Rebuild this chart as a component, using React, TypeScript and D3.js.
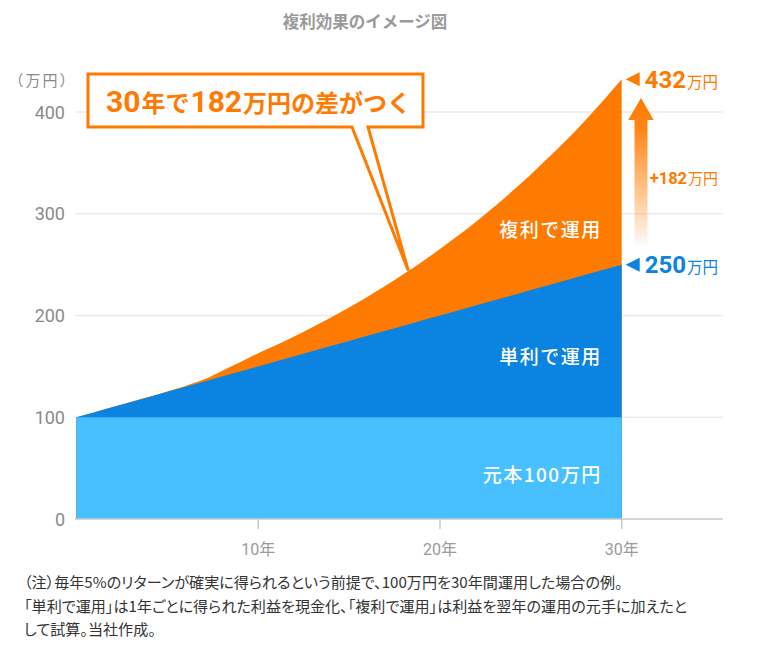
import React from "react";
import * as d3 from "d3";

const years = [0, 1, 2, 3, 4, 5, 6, 7, 8, 9, 10, 11, 12, 13, 14, 15, 16, 17, 18, 19, 20, 21, 22, 23, 24, 25, 26, 27, 28, 29, 30];
const principalValue = 100;
const simpleValues = [100, 105, 110, 115, 120, 125, 130, 135, 140, 145, 150, 155, 160, 165, 170, 175, 180, 185, 190, 195, 200, 205, 210, 215, 220, 225, 230, 235, 240, 245, 250];
const compoundValues = [100, 105, 110, 115, 120.1, 125.3, 130.8, 137, 145.5, 154, 162.9, 171, 179.6, 188.6, 198, 207.9, 218.3, 229.2, 240.7, 252.7, 265.3, 278.6, 292.5, 307.2, 322.5, 338.6, 355.7, 373.3, 392, 411.6, 432.2];
const yTicks = [0, 100, 200, 300, 400];
const xTicks = [10, 20, 30];
const xTickLabels = ["10年", "20年", "30年"];
const seriesLabels = ["複利で運用", "単利で運用", "元本100万円"];
const title = "複利効果のイメージ図";
const unitLabel = "（万円）";
const calloutParts = [
  { t: "30", num: true },
  { t: "年で", num: false },
  { t: "182", num: true },
  { t: "万円の差がつく", num: false },
];
const finalCompound = "432";
const finalSimple = "250";
const diffLabel = "+182";
const footnotes = [
  "（注）毎年5%のリターンが確実に得られるという前提で、100万円を30年間運用した場合の例。",
  "「単利で運用」は1年ごとに得られた利益を現金化、「複利で運用」は利益を翌年の運用の元手に加えたと",
  "して試算。当社作成。",
];

const ORANGE = "#FF7A00";
const BLUE = "#0B83E0";
const LIGHTBLUE = "#48BFFF";
const CJK = "'Noto Sans CJK JP', sans-serif";
const NUM = "Roboto, 'Noto Sans CJK JP', sans-serif";

export default function App() {
  const x = d3.scaleLinear().domain([0, 30]).range([76.5, 621.7]);
  const y = d3.scaleLinear().domain([0, 400]).range([519, 112]);
  const axisEnd = 723;

  const areaCompound = d3
    .area<number>()
    .x((_, i) => x(years[i]))
    .y0(y(0))
    .y1((d) => y(d))
    .curve(d3.curveMonotoneX);
  const areaSimple = d3
    .area<number>()
    .x((_, i) => x(years[i]))
    .y0(y(0))
    .y1((d) => y(d));
  const areaPrincipal = d3
    .area<number>()
    .x((_, i) => x(years[i]))
    .y0(y(0))
    .y1(() => y(principalValue));

  const lastC = compoundValues[compoundValues.length - 1];
  const lastS = simpleValues[simpleValues.length - 1];
  const yC = y(lastC);
  const yS = y(lastS);
  const xEnd = x(30);

  // callout tail tip on compound curve around year 18.25
  const tipX = 408.3;
  const tipY = 270.7;

  const labelX = xEnd - 20;

  return (
    <svg width={760} height={650} style={{ position: "absolute", left: 0, top: 0, background: "#fff" }}>
      <defs>
        <linearGradient id="arrowGrad" x1="0" y1="0" x2="0" y2="1">
          <stop offset="0" stopColor={ORANGE} stopOpacity={1} />
          <stop offset="0.2" stopColor={ORANGE} stopOpacity={0.92} />
          <stop offset="1" stopColor={ORANGE} stopOpacity={0.04} />
        </linearGradient>
      </defs>

      {/* title */}
      <text x={365} y={28} textAnchor="middle" fontFamily={CJK} fontWeight={700} fontSize={16.5} fill="#9a9a9a">
        {title}
      </text>

      {/* gridlines */}
      {yTicks.filter((t) => t > 0).map((t) => (
        <line key={t} x1={75} x2={axisEnd} y1={y(t)} y2={y(t)} stroke="#ebebeb" strokeWidth={1.5} />
      ))}

      {/* areas */}
      <path d={areaCompound(compoundValues) || ""} fill={ORANGE} />
      <path d={areaSimple(simpleValues) || ""} fill={BLUE} />
      <path d={areaPrincipal(years) || ""} fill={LIGHTBLUE} />

      {/* x axis */}
      <line x1={75} x2={axisEnd} y1={y(0)} y2={y(0)} stroke="#c8c8c8" strokeWidth={1.5} />
      {xTicks.map((t, i) => (
        <g key={t}>
          <line x1={x(t)} x2={x(t)} y1={y(0)} y2={y(0) + 10} stroke="#c8c8c8" strokeWidth={1.5} />
          <text x={x(t)} y={555} textAnchor="middle" fontFamily={NUM} fontSize={16} fill="#9a9a9a">
            {xTickLabels[i]}
          </text>
        </g>
      ))}

      {/* y axis labels */}
      {yTicks.map((t) => (
        <text key={t} x={65} y={y(t) + 6.5} textAnchor="end" fontFamily={NUM} fontSize={18} fill="#8a8a8a">
          {t}
        </text>
      ))}
      <text x={42.5} y={86} textAnchor="middle" fontFamily={CJK} fontSize={15} letterSpacing={2} fill="#8a8a8a">
        {unitLabel}
      </text>

      {/* series labels */}
      <text x={labelX} y={237} textAnchor="end" fontFamily={CJK} fontWeight={500} fontSize={19} letterSpacing={1.5} fill="#fff">
        {seriesLabels[0]}
      </text>
      <text x={labelX} y={364} textAnchor="end" fontFamily={CJK} fontWeight={500} fontSize={19} letterSpacing={1.5} fill="#fff">
        {seriesLabels[1]}
      </text>
      <text x={labelX} y={482} textAnchor="end" fontFamily={CJK} fontWeight={500} fontSize={19} letterSpacing={1.5} fill="#fff">
        {seriesLabels[2]}
      </text>

      {/* callout */}
      <path
        d={`M88,74 H423 V127 H368 L${tipX},${tipY} L352,127 H88 Z`}
        fill="#fff"
        stroke={ORANGE}
        strokeWidth={3}
        strokeLinejoin="miter"
      />
      <text x={106} y={112} fontFamily={NUM} fontWeight={700} fill={ORANGE}>
        {calloutParts.map((p, i) => (
          <tspan key={i} fontSize={p.num ? 30 : 24} fontFamily={p.num ? NUM : CJK} dx={i === 0 ? 0 : 1}>
            {p.t}
          </tspan>
        ))}
      </text>

      {/* final value markers */}
      <path d={`M${xEnd + 4},${yC} L${xEnd + 18},${yC - 7} L${xEnd + 18},${yC + 7} Z`} fill={ORANGE} />
      <text x={xEnd + 23} y={yC + 8.5} fill={ORANGE}>
        <tspan fontFamily={NUM} fontWeight={700} fontSize={24}>{finalCompound}</tspan>
        <tspan fontFamily={CJK} fontSize={15.5} dx={1}>万円</tspan>
      </text>
      <path d={`M${xEnd + 4},${yS} L${xEnd + 18},${yS - 7} L${xEnd + 18},${yS + 7} Z`} fill={BLUE} />
      <text x={xEnd + 23} y={yS + 8.5} fill={BLUE}>
        <tspan fontFamily={NUM} fontWeight={700} fontSize={24}>{finalSimple}</tspan>
        <tspan fontFamily={CJK} fontSize={15.5} dx={1}>万円</tspan>
      </text>

      {/* difference arrow */}
      <path
        d={`M${xEnd + 19.3},98 L${xEnd + 32},120 L${xEnd + 25.8},120 L${xEnd + 25.8},245 L${xEnd + 12.8},245 L${xEnd + 12.8},120 L${xEnd + 6.5},120 Z`}
        fill="url(#arrowGrad)"
      />
      <text x={xEnd + 28} y={184} fill={ORANGE}>
        <tspan fontFamily={NUM} fontWeight={700} fontSize={16.5}>{diffLabel}</tspan>
        <tspan fontFamily={CJK} fontSize={15} dx={1}>万円</tspan>
      </text>

      {/* footnotes */}
      {footnotes.map((line, i) => (
        <text
          key={i}
          x={24}
          y={588 + i * 23.5}
          fontFamily={CJK}
          fontSize={15.1}
          fill="#333"
          style={{ fontFeatureSettings: "'palt' 1" }}
        >
          {line}
        </text>
      ))}
    </svg>
  );
}
